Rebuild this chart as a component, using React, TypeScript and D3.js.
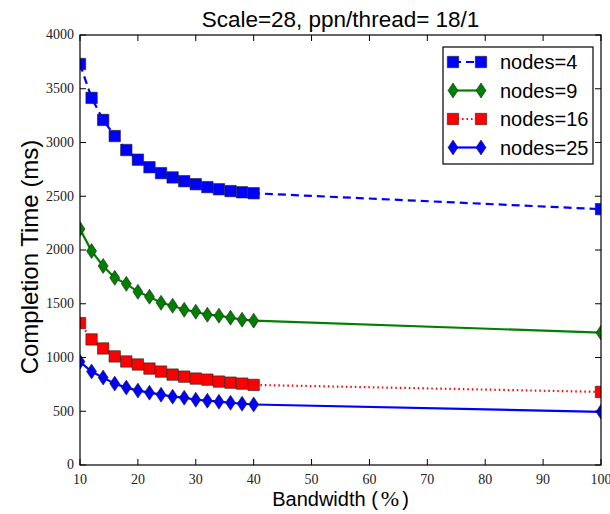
import React, { useEffect, useRef } from 'react';
import * as d3 from 'd3';

const bandwidth = [10, 12, 14, 16, 18, 20, 22, 24, 26, 28, 30, 32, 34, 36, 38, 40, 100];
const nodes4 = [3730, 3415, 3210, 3060, 2930, 2840, 2770, 2715, 2675, 2640, 2612, 2585, 2565, 2548, 2537, 2528, 2380];
const nodes9 = [2195, 1990, 1852, 1741, 1685, 1611, 1565, 1509, 1481, 1444, 1426, 1398, 1389, 1370, 1352, 1343, 1231];
const nodes16 = [1320, 1168, 1084, 1010, 963, 935, 897, 869, 841, 822, 804, 794, 776, 766, 757, 745, 680];
const nodes25 = [960, 870, 813, 757, 720, 692, 673, 654, 636, 626, 607, 598, 589, 579, 570, 563, 495];
const seriesNames = ['nodes=4', 'nodes=9', 'nodes=16', 'nodes=25'];
const xTicks = [10, 20, 30, 40, 50, 60, 70, 80, 90, 100];
const yTicks = [0, 500, 1000, 1500, 2000, 2500, 3000, 3500, 4000];

const W = 610, H = 514;
const margin = { left: 80, right: 9, top: 35, bottom: 49 };
const SANS = '"Liberation Sans", Arial, sans-serif';
const SERIF = '"Liberation Serif", "DejaVu Serif", serif';

export default function App() {
  const svgRef = useRef<SVGSVGElement>(null);

  useEffect(() => {
    const svg = d3.select(svgRef.current);
    svg.selectAll('*').remove();

    const x0 = margin.left, x1 = W - margin.right;
    const y0 = H - margin.bottom, y1 = margin.top;
    const x = d3.scaleLinear().domain([10, 100]).range([x0, x1]);
    const y = d3.scaleLinear().domain([0, 4000]).range([y0, y1]);

    const series = [
      { name: seriesNames[0], values: nodes4, color: '#0000ff', marker: 'square', dash: '8,5' },
      { name: seriesNames[1], values: nodes9, color: '#007f00', marker: 'diamond', dash: null },
      { name: seriesNames[2], values: nodes16, color: '#ff0000', marker: 'square', dash: '1.5,3' },
      { name: seriesNames[3], values: nodes25, color: '#0000ff', marker: 'diamond', dash: null }
    ];

    const squarePath = d3.symbol().type(d3.symbolSquare).size(130)();
    const diamondPath = 'M0,-7.5L5,0L0,7.5L-5,0Z';
    const markerPath = (m: string) => (m === 'square' ? squarePath : diamondPath);

    svg.append('defs').append('clipPath').attr('id', 'plot-clip')
      .append('rect')
      .attr('x', x0).attr('y', y1)
      .attr('width', x1 - x0).attr('height', y0 - y1);

    const plot = svg.append('g').attr('clip-path', 'url(#plot-clip)');

    const line = d3.line<number>()
      .x((d, i) => x(bandwidth[i]))
      .y(d => y(d));

    series.forEach(s => {
      plot.append('path')
        .attr('d', line(s.values))
        .attr('fill', 'none')
        .attr('stroke', s.color)
        .attr('stroke-width', 2.2)
        .attr('stroke-dasharray', s.dash);

      plot.append('g').selectAll('path')
        .data(s.values)
        .enter().append('path')
        .attr('d', markerPath(s.marker))
        .attr('transform', (d, i) => `translate(${x(bandwidth[i])},${y(d)})`)
        .attr('fill', s.color)
        .attr('stroke', '#222')
        .attr('stroke-width', 0.6);
    });

    // frame
    svg.append('rect')
      .attr('x', x0).attr('y', y1)
      .attr('width', x1 - x0).attr('height', y0 - y1)
      .attr('fill', 'none')
      .attr('stroke', '#000')
      .attr('stroke-width', 1.2);

    const tickLen = 6;
    const ticks = svg.append('g').attr('stroke', '#000').attr('stroke-width', 1);
    xTicks.forEach(t => {
      ticks.append('line').attr('x1', x(t)).attr('x2', x(t)).attr('y1', y0).attr('y2', y0 - tickLen);
      ticks.append('line').attr('x1', x(t)).attr('x2', x(t)).attr('y1', y1).attr('y2', y1 + tickLen);
    });
    yTicks.forEach(t => {
      ticks.append('line').attr('x1', x0).attr('x2', x0 + tickLen).attr('y1', y(t)).attr('y2', y(t));
      ticks.append('line').attr('x1', x1).attr('x2', x1 - tickLen).attr('y1', y(t)).attr('y2', y(t));
    });

    // tick labels
    svg.append('g').selectAll('text')
      .data(xTicks)
      .enter().append('text')
      .attr('x', d => x(d))
      .attr('y', y0 + 19)
      .attr('text-anchor', 'middle')
      .style('font-family', SERIF)
      .style('font-size', '14px')
      .style('fill', '#222')
      .text(d => d);

    svg.append('g').selectAll('text')
      .data(yTicks)
      .enter().append('text')
      .attr('x', x0 - 6)
      .attr('y', d => y(d))
      .attr('dy', '0.32em')
      .attr('text-anchor', 'end')
      .style('font-family', SERIF)
      .style('font-size', '14px')
      .style('fill', '#222')
      .text(d => d);

    // title and axis labels
    svg.append('text')
      .attr('x', (x0 + x1) / 2)
      .attr('y', 27)
      .attr('text-anchor', 'middle')
      .style('font-family', SANS)
      .style('font-size', '22.5px')
      .text('Scale=28, ppn/thread= 18/1');

    const xl = svg.append('text')
      .attr('x', (x0 + x1) / 2)
      .attr('y', 506)
      .attr('text-anchor', 'middle')
      .style('font-family', SANS)
      .style('font-size', '20px');
    xl.append('tspan').text('Bandwidth (');
    xl.append('tspan').attr('dx', 3).style('font-family', SERIF).style('font-size', '22px').text('%');
    xl.append('tspan').attr('dx', 3).text(')');

    svg.append('text')
      .attr('transform', `translate(38,${(y0 + y1) / 2 + 7}) rotate(-90)`)
      .attr('text-anchor', 'middle')
      .style('font-family', SANS)
      .style('font-size', '24px')
      .text('Completion Time (ms)');

    // legend
    const lg = svg.append('g');
    lg.append('rect')
      .attr('x', 443).attr('y', 47)
      .attr('width', 150).attr('height', 117)
      .attr('fill', '#fff')
      .attr('stroke', '#000')
      .attr('stroke-width', 1.2);

    series.forEach((s, i) => {
      const cy = 62 + i * 28.5;
      lg.append('line')
        .attr('x1', 453).attr('x2', 481)
        .attr('y1', cy).attr('y2', cy)
        .attr('stroke', s.color)
        .attr('stroke-width', 2.2)
        .attr('stroke-dasharray', s.dash);
      [453, 481].forEach(mx => {
        lg.append('path')
          .attr('d', markerPath(s.marker))
          .attr('transform', `translate(${mx},${cy})`)
          .attr('fill', s.color)
          .attr('stroke', '#222')
          .attr('stroke-width', 0.6);
      });
      lg.append('text')
        .attr('x', 500)
        .attr('y', cy)
        .attr('dy', '0.35em')
        .style('font-family', SANS)
        .style('font-size', '20px')
        .text(s.name);
    });
  }, []);

  return (
    <svg
      ref={svgRef}
      width={W}
      height={H}
      style={{ position: 'absolute', left: 0, top: 0, background: '#fff' }}
    />
  );
}
